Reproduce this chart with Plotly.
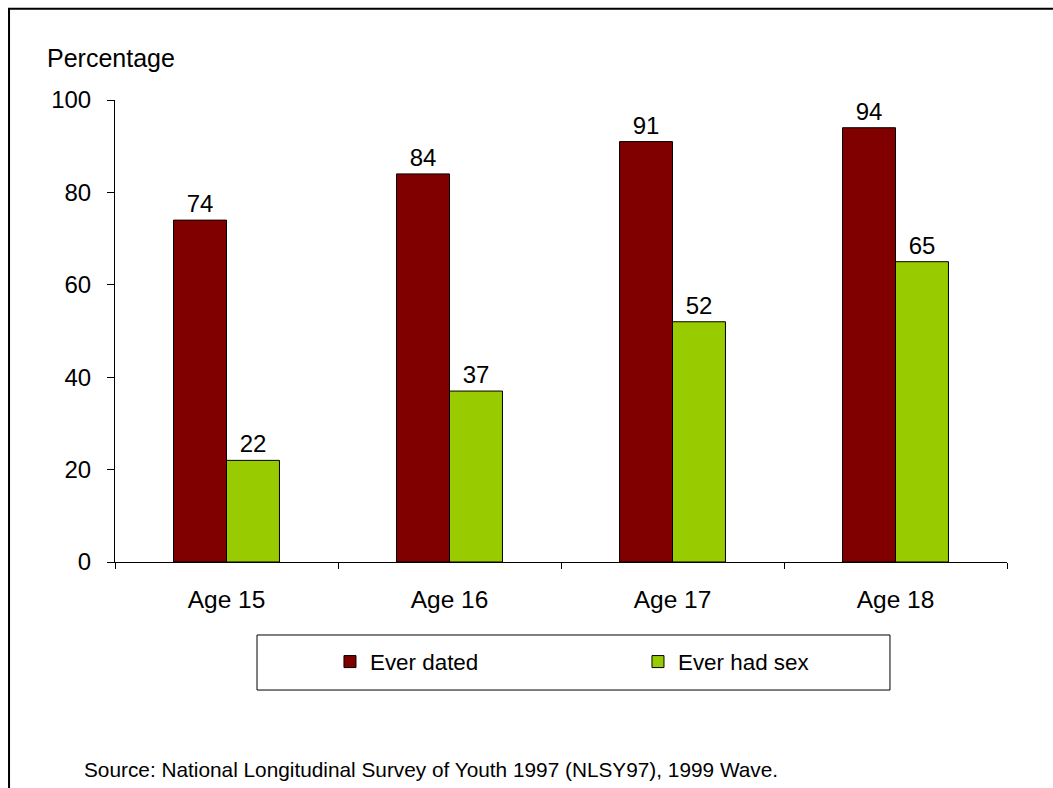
import plotly.graph_objects as go

categories = ["Age 15", "Age 16", "Age 17", "Age 18"]
ever_dated = [74, 84, 91, 94]
ever_had_sex = [22, 37, 52, 65]
series_names = ["Ever dated", "Ever had sex"]
y_ticks = [0, 20, 40, 60, 80, 100]

FONT = "Liberation Sans, Arial, sans-serif"

fig = go.Figure()
fig.add_trace(go.Bar(
    x=categories, y=ever_dated, name=series_names[0],
    marker=dict(color="#800000", line=dict(color="#000000", width=1)),
    text=ever_dated, textposition="outside", cliponaxis=False,
    textfont=dict(size=24, color="#000000", family=FONT),
))
fig.add_trace(go.Bar(
    x=categories, y=ever_had_sex, name=series_names[1],
    marker=dict(color="#99CC00", line=dict(color="#000000", width=1)),
    text=ever_had_sex, textposition="outside", cliponaxis=False,
    textfont=dict(size=24, color="#000000", family=FONT),
))

fig.update_layout(
    width=1053, height=788,
    margin=dict(l=115, r=46, t=100, b=226, autoexpand=False),
    paper_bgcolor="white", plot_bgcolor="white",
    font=dict(family=FONT, size=24, color="#000000"),
    barmode="group", bargap=0.525, bargroupgap=0,
    showlegend=True,
    legend=dict(
        orientation="h", x=0.2410, xanchor="left", y=-0.2165, yanchor="middle",
        entrywidth=263, entrywidthmode="pixels",
        font=dict(size=22.4, family=FONT, color="#000000"),
        bgcolor="rgba(0,0,0,0)", borderwidth=0,
    ),
    xaxis=dict(
        showline=True, linecolor="#000000", linewidth=1,
        ticks="outside", ticklen=6, tickcolor="#000000", tickson="boundaries",
        showgrid=False, ticklabelstandoff=16,
        tickfont=dict(size=24.5, family=FONT),
    ),
    yaxis=dict(
        range=[0, 100], tickvals=y_ticks, showline=True, linecolor="#000000", linewidth=1,
        ticks="outside", ticklen=7, tickcolor="#000000", showgrid=False, zeroline=False,
        ticklabelstandoff=11, tickfont=dict(size=24, family=FONT),
    ),
    shapes=[
        dict(type="rect", xref="paper", yref="paper", x0=0.1592, x1=0.8688, y0=-0.2771, y1=-0.158,
             line=dict(color="#000000", width=1), fillcolor="rgba(0,0,0,0)"),
        dict(type="rect", xref="paper", yref="paper", x0=-0.1188, x1=1.07, y0=-0.52, y1=1.1975,
             line=dict(color="#000000", width=2), fillcolor="rgba(0,0,0,0)", layer="below"),
    ],
    annotations=[
        dict(text="Percentage", xref="paper", yref="paper", x=-0.0785, y=1.0909,
             xanchor="left", yanchor="middle", showarrow=False, font=dict(size=25, family=FONT)),
        dict(text="Source: National Longitudinal Survey of Youth 1997 (NLSY97), 1999 Wave.",
             xref="paper", yref="paper", x=-0.0370, y=-0.450, xanchor="left", yanchor="middle",
             showarrow=False, font=dict(size=20.8, family=FONT)),
    ],
)

fig.write_html("out.html", config={"displayModeBar": False},
               post_script="document.body.style.margin='0';")
